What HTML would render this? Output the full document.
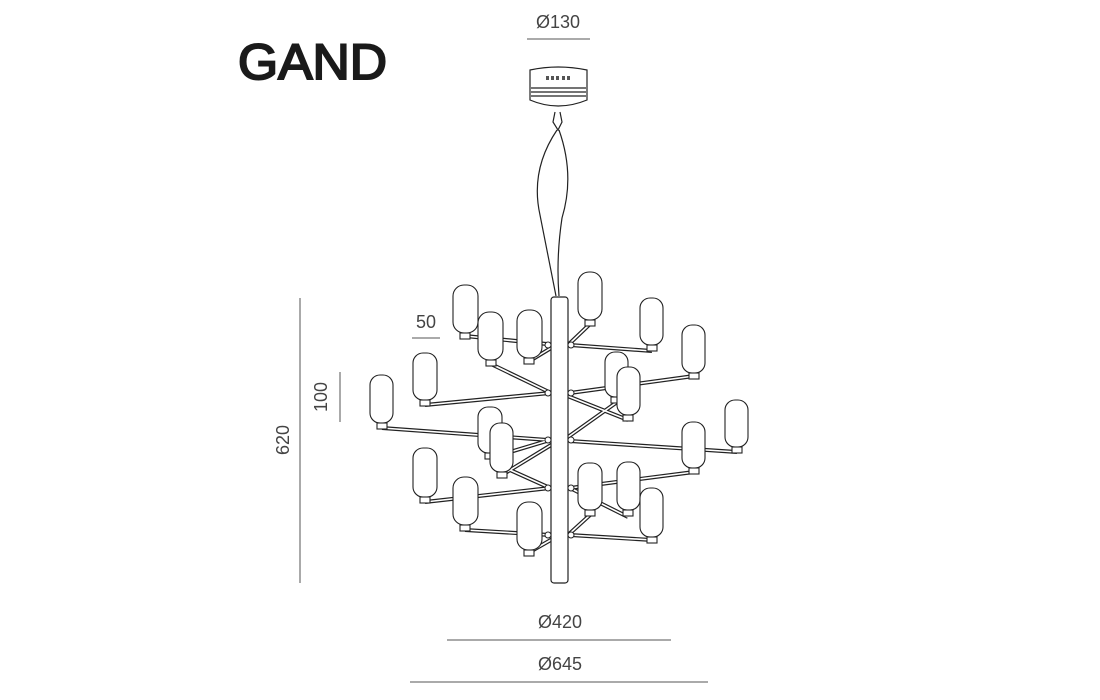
<!DOCTYPE html>
<html><head><meta charset="utf-8"><style>
html,body{margin:0;padding:0;background:#fff;}
svg{display:block;}
.t{font-family:"Liberation Sans",sans-serif;fill:#444;font-size:18px;}
</style></head><body>
<svg width="1100" height="700" viewBox="0 0 1100 700" xmlns="http://www.w3.org/2000/svg">
<text x="238" y="79" font-family="Liberation Sans, sans-serif" font-size="50" fill="#1a1a1a" stroke="#1a1a1a" stroke-width="2" textLength="149" lengthAdjust="spacingAndGlyphs">GAND</text>

<!-- dimensions -->
<g stroke="#555" stroke-width="1" fill="none">
<line x1="527" y1="39" x2="590" y2="39"/>
<line x1="412" y1="338" x2="440" y2="338"/>
<line x1="340" y1="372" x2="340" y2="422"/>
<line x1="300" y1="298" x2="300" y2="583"/>
<line x1="447" y1="640" x2="671" y2="640"/>
<line x1="410" y1="682" x2="708" y2="682"/>
</g>
<text class="t" x="558" y="28" text-anchor="middle">Ø130</text>
<text class="t" x="426" y="328" text-anchor="middle">50</text>
<text class="t" transform="translate(327,397) rotate(-90)" text-anchor="middle">100</text>
<text class="t" transform="translate(289,440) rotate(-90)" text-anchor="middle">620</text>
<text class="t" x="560" y="628" text-anchor="middle">Ø420</text>
<text class="t" x="560" y="670" text-anchor="middle">Ø645</text>

<!-- canopy -->
<g stroke="#222" stroke-width="1.2" fill="#fff">
<path d="M530,70 Q558,64 587,70 L587,100 Q558,112 530,100 Z"/>
<line x1="531" y1="88" x2="586" y2="88"/>
<line x1="531" y1="92" x2="586" y2="92"/>
<line x1="531" y1="96" x2="586" y2="96"/>
</g>
<g fill="#555">
<rect x="546" y="76" width="3" height="4"/><rect x="551" y="76" width="3" height="4"/><rect x="556" y="76" width="3" height="4"/>
<rect x="562" y="76" width="3" height="4"/><rect x="567" y="76" width="3" height="4"/>
</g>
<g stroke="#222" stroke-width="1.2" fill="none">
<path d="M555,112 L553,122 L558,130 L562,122 L560,112"/>
<path d="M557,130 Q530,170 540,215 Q548,255 556,296"/>
<path d="M559,130 Q575,175 562,218 Q556,258 559,296"/>
</g>

<!-- arms -->
<g stroke="#222" stroke-width="4" fill="none" stroke-linecap="butt">
<path id="arms" d="M465,336 L547,344 M491,364 L551,393 M528,362 L556,345 M590,324 L568,345 M652,351 L570,345 M694,376 L570,393 M425,405 L550,393 M382,428 L548,440 M628,420 L565,395 M568,437 L620,400 M502,475 L556,442 M510,470 L550,488 M694,472 L570,488 M737,452 L570,441 M425,502 L550,488 M465,530 L550,535 M528,553 L556,537 M590,515 L568,535 M628,517 L570,488 M652,540 L570,535 M490,458 L550,440"/>
</g>
<g stroke="#fff" stroke-width="1.6" fill="none">
<use href="#arms"/>
</g>

<!-- pole -->
<rect x="551" y="297" width="17" height="286" rx="3" fill="#fff" stroke="#222" stroke-width="1.2"/>
<g fill="#fff" stroke="#222" stroke-width="1">
<circle cx="548" cy="345" r="3"/><circle cx="571" cy="345" r="3"/>
<circle cx="548" cy="393" r="3"/><circle cx="571" cy="393" r="3"/>
<circle cx="548" cy="440" r="3"/><circle cx="571" cy="440" r="3"/>
<circle cx="548" cy="488" r="3"/><circle cx="571" cy="488" r="3"/>
<circle cx="548" cy="535" r="3"/><circle cx="571" cy="535" r="3"/>
</g>

<!-- shades -->
<g fill="#fff" stroke="#222" stroke-width="1.1">
<g><rect x="605" y="352" width="23" height="45" rx="10"/><rect x="611" y="397" width="10" height="6"/></g>
<g><rect x="478" y="407" width="24" height="46" rx="10"/><rect x="485" y="453" width="10" height="6"/></g>
<g><rect x="578" y="463" width="24" height="47" rx="10"/><rect x="585" y="510" width="10" height="6"/></g>
<g><rect x="453" y="285" width="25" height="48" rx="11"/><rect x="460" y="333" width="10" height="6"/></g>
<g><rect x="478" y="312" width="25" height="48" rx="11"/><rect x="486" y="360" width="10" height="6"/></g>
<g><rect x="517" y="310" width="25" height="48" rx="11"/><rect x="524" y="358" width="10" height="6"/></g>
<g><rect x="578" y="272" width="24" height="48" rx="11"/><rect x="585" y="320" width="10" height="6"/></g>
<g><rect x="640" y="298" width="23" height="47" rx="10"/><rect x="647" y="345" width="10" height="6"/></g>
<g><rect x="682" y="325" width="23" height="48" rx="10"/><rect x="689" y="373" width="10" height="6"/></g>
<g><rect x="413" y="353" width="24" height="47" rx="10"/><rect x="420" y="400" width="10" height="6"/></g>
<g><rect x="370" y="375" width="23" height="48" rx="10"/><rect x="377" y="423" width="10" height="6"/></g>
<g><rect x="617" y="367" width="23" height="48" rx="10"/><rect x="623" y="415" width="10" height="6"/></g>
<g><rect x="490" y="423" width="23" height="49" rx="10"/><rect x="497" y="472" width="10" height="6"/></g>
<g><rect x="682" y="422" width="23" height="46" rx="10"/><rect x="689" y="468" width="10" height="6"/></g>
<g><rect x="725" y="400" width="23" height="47" rx="10"/><rect x="732" y="447" width="10" height="6"/></g>
<g><rect x="413" y="448" width="24" height="49" rx="10"/><rect x="420" y="497" width="10" height="6"/></g>
<g><rect x="453" y="477" width="25" height="48" rx="11"/><rect x="460" y="525" width="10" height="6"/></g>
<g><rect x="517" y="502" width="25" height="48" rx="11"/><rect x="524" y="550" width="10" height="6"/></g>
<g><rect x="617" y="462" width="23" height="48" rx="10"/><rect x="623" y="510" width="10" height="6"/></g>
<g><rect x="640" y="488" width="23" height="49" rx="10"/><rect x="647" y="537" width="10" height="6"/></g>
</g>
</svg>
</body></html>
